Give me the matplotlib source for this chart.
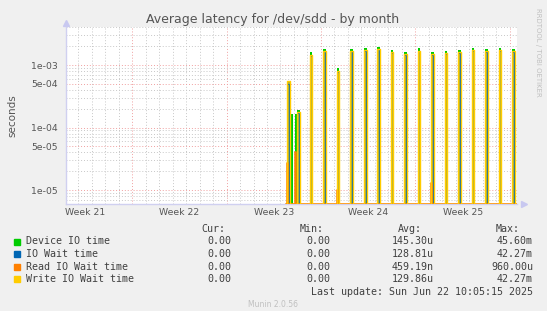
import numpy as np
import matplotlib.pyplot as plt
from matplotlib.ticker import FixedLocator, NullFormatter

W, H = 547, 311

# time axis in days since Mon 19 May 2025 00:00 (start of Week 21)
x_start, x_end = 2.11, 35.52
data_start = 18.40
week_names = ['Week 21', 'Week 22', 'Week 23', 'Week 24', 'Week 25']

# daily latency spikes (left edge of each spike, days)
spike_days = [18.50, 18.76, 19.09, 19.24, 20.16, 21.15, 22.16, 23.17, 24.19, 25.17,
              26.16, 27.17, 28.16, 29.17, 30.16, 31.17, 32.16, 33.15, 34.16, 35.17]
device_io = [5.5e-4, 1.65e-4, 1.65e-4, 1.9e-4, 1.62e-3, 1.82e-3, 8.9e-4, 1.82e-3, 1.88e-3, 1.95e-3,
             1.72e-3, 1.62e-3, 1.88e-3, 1.62e-3, 1.68e-3, 1.72e-3, 1.88e-3, 1.8e-3, 1.88e-3, 1.8e-3]
io_wait = [5.0e-4, 0, 0, 1.7e-4, 1.38e-3, 1.65e-3, 7.8e-4, 1.65e-3, 1.68e-3, 1.78e-3,
           1.55e-3, 1.45e-3, 1.65e-3, 1.45e-3, 1.5e-3, 1.55e-3, 1.7e-3, 1.62e-3, 1.7e-3, 1.62e-3]
read_wait = [2.7e-5, 0, 4.1e-5, 0, 0, 0, 1.0e-5, 0, 0, 0,
             0, 0, 0, 1.3e-5, 0, 0, 0, 0, 0, 0]
write_wait = [5.5e-4, 0, 0, 1.8e-4, 1.45e-3, 1.7e-3, 8.0e-4, 1.7e-3, 1.72e-3, 1.82e-3,
              1.6e-3, 1.5e-3, 1.7e-3, 1.5e-3, 1.55e-3, 1.6e-3, 1.75e-3, 1.68e-3, 1.75e-3, 1.68e-3]

labels = ['Device IO time', 'IO Wait time', 'Read IO Wait time', 'Write IO Wait time']
colors = ['#00cc00', '#0066b3', '#ff8000', '#ffcc00']
cur_vals = ['0.00', '0.00', '0.00', '0.00']
min_vals = ['0.00', '0.00', '0.00', '0.00']
avg_vals = ['145.30u', '128.81u', '459.19n', '129.86u']
max_vals = ['45.60m', '42.27m', '960.00u', '42.27m']

y_lo, y_hi = 6.0e-6, 4.05e-3


def step_series(days, vals, width):
    xs, ys = [data_start], [0.0]
    for d, v in zip(days, vals):
        xs += [d, d, d + width, d + width]
        ys += [0.0, v, v, 0.0]
    xs.append(x_end)
    ys.append(0.0)
    return np.array(xs), np.maximum(np.array(ys), y_lo)


def px(x, y):
    return x / W, 1 - y / H


fig = plt.figure(figsize=(W / 100, H / 100), dpi=100, facecolor='#f0f0f0')
ax = fig.add_axes([66 / W, 1 - 204 / H, (517 - 66) / W, (204 - 27) / H])
ax.set_facecolor('white')
ax.set_yscale('log')
ax.set_xlim(x_start, x_end)
ax.set_ylim(y_lo, y_hi)

# grid: gray per day / minor decade, red per week / major value
grid_kw = dict(linestyle=(0, (1, 2)), linewidth=0.7, zorder=0)
for d in range(3, 36):
    if d % 7:
        ax.axvline(d, color='#c8c8c8', **grid_kw)
for d in range(7, 36, 7):
    ax.axvline(d, color='#f0a0a0', **grid_kw)
major_y = [1e-5, 5e-5, 1e-4, 5e-4, 1e-3]
minor_y = [m * 10.0 ** k for k in (-6, -5, -4, -3) for m in (2, 3, 4, 6, 7, 8, 9)]
minor_y = [v for v in minor_y if y_lo < v < y_hi]
for v in minor_y:
    ax.axhline(v, color='#c8c8c8', **grid_kw)
for v in major_y:
    ax.axhline(v, color='#f0a0a0', **grid_kw)

ax.yaxis.set_major_locator(FixedLocator(major_y))
ax.yaxis.set_minor_locator(FixedLocator(minor_y))
ax.yaxis.set_minor_formatter(NullFormatter())
ax.set_yticklabels(['%.0e' % v for v in major_y])
ax.set_xticks([3.5 + 7 * i for i in range(5)], week_names)
ax.tick_params(axis='both', which='both', length=0, labelsize=6.7, labelcolor='#555555')
ax.tick_params(axis='y', pad=6)
ax.tick_params(axis='x', pad=3)
for s in ['top', 'right']:
    ax.spines[s].set_visible(False)
for s in ['left', 'bottom']:
    ax.spines[s].set_color('#d0d0f0')
    ax.spines[s].set_linewidth(1)

# series
xd, yd = step_series(spike_days, device_io, 0.2)
ax.fill_between(xd, y_lo, yd, color=colors[0], linewidth=0, zorder=2)
xw, yw = step_series(spike_days, write_wait, 0.2)
ax.fill_between(xw, y_lo, yw, color='#a3ab3e', linewidth=0, zorder=3)
xi, yi = step_series(spike_days, io_wait, 0.16)
ax.plot(xi, yi, color=colors[1], linewidth=0.7, zorder=4)
xr, yr = step_series(spike_days, read_wait, 0.08)
ax.plot(xr, yr, color=colors[2], linewidth=1.1, zorder=5)
ax.plot(xw, yw, color=colors[3], linewidth=1.0, zorder=6)

# axis arrows
ax.plot([0], [1.02], marker='^', color='#c8c8f0', markersize=5, transform=ax.transAxes, clip_on=False)
ax.plot([1.015], [0], marker='>', color='#c8c8f0', markersize=5, transform=ax.transAxes, clip_on=False)

ax.set_ylabel('seconds', fontsize=7.5, color='#555555', labelpad=10)
fig.text(*px(273, 19), 'Average latency for /dev/sdd - by month', ha='center', va='center',
         fontsize=9, color='#555555')
fig.text(*px(538, 52), 'RRDTOOL / TOBI OETIKER', rotation=270, ha='center', va='center',
         fontsize=5, color='#c0c0c0')

# legend table
mono = dict(family='DejaVu Sans Mono', fontsize=7.2, color='#404040', va='center')
for txt, xr_ in zip(['Cur:', 'Min:', 'Avg:', 'Max:'], [225, 324, 422, 520]):
    fig.text(*px(xr_, 229), txt, ha='right', **mono)
for i, lab in enumerate(labels):
    yrow = 241.5 + 12.5 * i
    fig.patches.append(plt.Rectangle(px(13.5, yrow + 3), 6 / W, 6 / H, color=colors[i],
                                     transform=fig.transFigure, figure=fig))
    fig.text(*px(26, yrow), lab, ha='left', **mono)
    fig.text(*px(231, yrow), cur_vals[i], ha='right', **mono)
    fig.text(*px(330, yrow), min_vals[i], ha='right', **mono)
    fig.text(*px(434, yrow), avg_vals[i], ha='right', **mono)
    fig.text(*px(533, yrow), max_vals[i], ha='right', **mono)
fig.text(*px(533, 291.7), 'Last update: Sun Jun 22 10:05:15 2025', ha='right', **mono)
fig.text(*px(273, 304.6), 'Munin 2.0.56', ha='center', va='center', fontsize=5.5, color='#c0c0c0')

fig.savefig('out.png', dpi=100, facecolor=fig.get_facecolor())
